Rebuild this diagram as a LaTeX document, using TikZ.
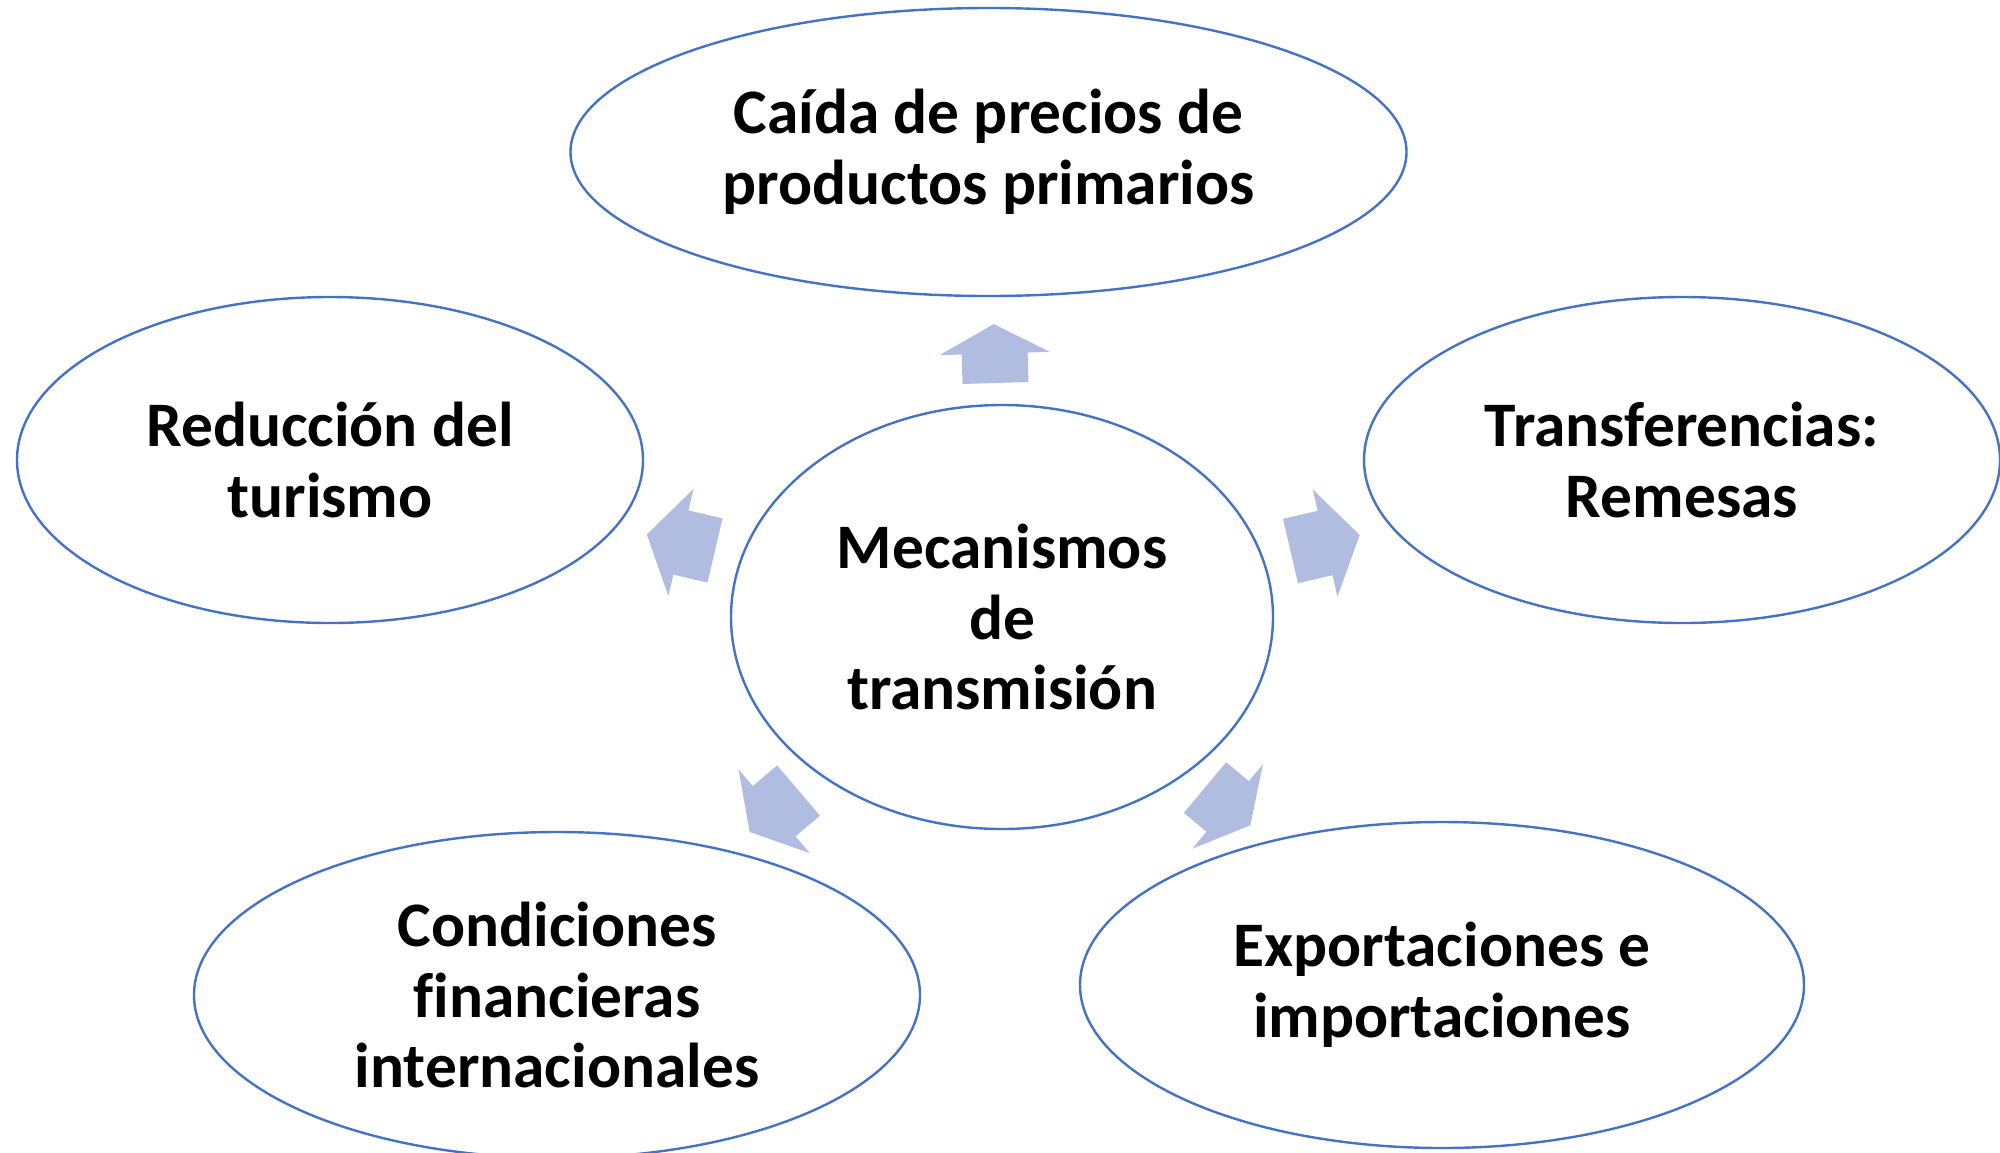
\documentclass[tikz,border=0pt]{standalone}
\usepackage{fontspec}
\setmainfont[Ligatures={NoCommon}]{Carlito}
\usetikzlibrary{shapes.geometric}
\definecolor{edgeblue}{HTML}{4472C4}
\definecolor{arrowfill}{HTML}{B0BCE0}
\tikzset{
  bubble/.style={ellipse, draw=edgeblue, line width=1.2pt, inner sep=0pt, align=center,
    font=\fontsize{31.7}{35.4}\selectfont\bfseries},
  blockarrow/.style={fill=arrowfill, draw=none}
}
\newcommand{\blockarr}[4]{%
  \begin{scope}[shift={(#1,#2)}, rotate=#3]
    \fill[blockarrow] (0,-33) -- ({#4/2},-33) -- ({#4/2},-55) -- (#4,0) -- ({#4/2},55) -- ({#4/2},33) -- (0,33) -- cycle;
  \end{scope}}
\begin{document}
\begin{tikzpicture}[x=0.5pt, y=-0.5pt]
  \useasboundingbox (0,0) rectangle (2000,1152);
  \clip (0,0) rectangle (2000,1152);
  \node[bubble, minimum width=271pt, minimum height=212pt] (center) at (1002,617) {Mecanismos\\de\\transmisión};
  \node[bubble, minimum width=418pt, minimum height=144pt] (top) at (988.5,152) {Caída de precios de\\productos primarios};
  \node[bubble, minimum width=313pt, minimum height=163pt] (left) at (330,460) {Reducción del\\turismo};
  \node[bubble, minimum width=318pt, minimum height=163pt] (right) at (1682,460) {Transferencias:\\Remesas};
  \node[bubble, minimum width=363pt, minimum height=163pt] (botleft) at (557,995) {Condiciones\\financieras\\internacionales};
  \node[bubble, minimum width=362pt, minimum height=163pt] (botright) at (1442,985) {Exportaciones e\\importaciones};
  \blockarr{995.5}{383}{91.7}{59}
  \blockarr{1290.5}{551}{13}{71}
  \blockarr{715}{550.5}{166.8}{70}
  \blockarr{798.5}{790.5}{-139.6}{64}
  \blockarr{1205}{787.5}{-39.9}{59}
\end{tikzpicture}
\end{document}
